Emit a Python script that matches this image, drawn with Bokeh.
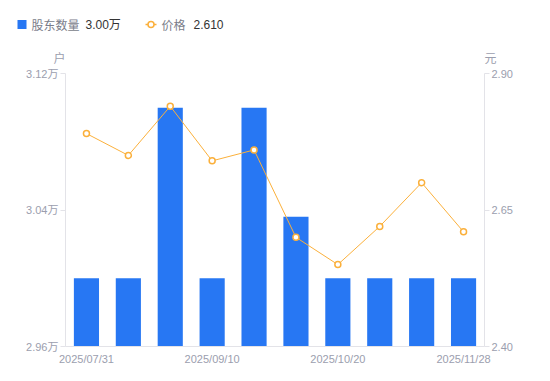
from bokeh.plotting import figure
from bokeh.models import Range1d, LinearAxis, FixedTicker, PrintfTickFormatter, ColumnDataSource
from bokeh.embed import file_html
from bokeh.resources import INLINE
from bokeh.core.properties import value

# ---- data ----
dates = ["2025/07/31", "2025/08/10", "2025/08/20", "2025/09/10", "2025/09/20",
         "2025/09/30", "2025/10/20", "2025/10/31", "2025/11/10", "2025/11/28"]
holders = [3.00, 3.00, 3.10, 3.00, 3.10, 3.036, 3.00, 3.00, 3.00, 3.00]  # 万户
price = [2.79, 2.75, 2.84, 2.74, 2.76, 2.60, 2.55, 2.62, 2.70, 2.61]       # 元
left_ticks = [2.96, 3.04, 3.12]
right_ticks = [2.40, 2.65, 2.90]
shown_ticks = [0, 3, 6, 9]

BLUE = "#2777f3"
ORANGE = "#fbb03b"
AXIS = "#e3e3e8"
TICKTXT = "#9b9eae"
FONT = "Liberation Sans, Noto Sans CJK SC"
CJK = "Noto Sans CJK SC"

W = 542
H1 = 67          # header height
H2 = 306         # chart height
FL, FR, FT, FB = 65, 484, 73, 346   # frame edges on the page

# ---- header (legend + unit labels); its data units equal pixels ----
top = figure(width=W, height=H1, output_backend="svg", toolbar_location=None,
             x_range=Range1d(0, W), y_range=Range1d(H1, 0),
             min_border=0, min_border_left=0, min_border_right=0,
             min_border_top=0, min_border_bottom=0,
             x_axis_location=None, y_axis_location=None)
top.grid.visible = False
top.outline_line_color = None

def txt(x, y, s, font, color, align="left"):
    top.text(x=[x], y=[y], text=[s], text_font=value(font), text_font_size="12px",
             text_color=color, text_baseline="middle", text_align=align)

top.rect(x=[21.5], y=[24], width=9, height=9, fill_color=BLUE, line_color=None)
txt(31, 24, "股东数量", CJK, "#7a7d8a")
txt(85, 24, "%.2f万" % holders[-1], FONT, "#333333")
top.line(x=[145, 156], y=[24, 24], line_color=ORANGE, line_width=1.5)
top.scatter(x=[150.5], y=[24], size=6, marker="circle", fill_color="white",
            line_color=ORANGE, line_width=1.5)
txt(161, 24, "价格", CJK, "#7a7d8a")
txt(193, 24, "%.3f" % price[-1], FONT, "#333333")
txt(59, 57, "户", CJK, TICKTXT, "center")
txt(490, 57, "元", CJK, TICKTXT, "center")

# ---- main chart ----
xs = list(range(len(dates)))
src = ColumnDataSource(dict(x=xs, holders=holders, price=price))

p = figure(width=W, height=H2, output_backend="svg", toolbar_location=None,
           x_range=Range1d(-0.5, len(dates) - 0.5),
           y_range=Range1d(left_ticks[0], left_ticks[-1]),
           min_border_left=FL, min_border_right=W - FR, min_border_top=FT - H1,
           min_border_bottom=H1 + H2 - FB,
           y_axis_location=None, x_axis_location=None)
p.extra_y_ranges = {"price": Range1d(right_ticks[0], right_ticks[-1])}
p.grid.visible = False
p.outline_line_color = None

p.vbar(x="x", top="holders", bottom=left_ticks[0], width=0.6, source=src,
       fill_color=BLUE, line_color=None)
p.line(x="x", y="price", source=src, y_range_name="price", line_color=ORANGE, line_width=1)
p.scatter(x="x", y="price", source=src, y_range_name="price", size=6, marker="circle",
          fill_color="white", line_color=ORANGE, line_width=1.5)

def style(ax):
    ax.axis_line_color = AXIS
    ax.major_tick_line_color = AXIS
    ax.minor_tick_line_color = None
    ax.major_tick_in = 0
    ax.major_label_text_color = TICKTXT
    ax.major_label_text_font = FONT
    ax.major_label_text_font_size = "11px"

ly = LinearAxis(ticker=FixedTicker(ticks=left_ticks), formatter=PrintfTickFormatter(format="%.2f万"))
style(ly)
ly.major_tick_out = 5
ly.major_label_standoff = 2
p.add_layout(ly, "left")

ry = LinearAxis(y_range_name="price", ticker=FixedTicker(ticks=right_ticks),
                formatter=PrintfTickFormatter(format="%.2f"))
style(ry)
ry.major_tick_out = 5
ry.major_label_standoff = 2
p.add_layout(ry, "right")

bx = LinearAxis(ticker=FixedTicker(ticks=shown_ticks))
style(bx)
bx.major_tick_out = 0
bx.major_label_standoff = 6
bx.major_label_overrides = {i: dates[i] for i in shown_ticks}
p.add_layout(bx, "below")

open("out.html", "w").write(file_html([top, p], INLINE))
